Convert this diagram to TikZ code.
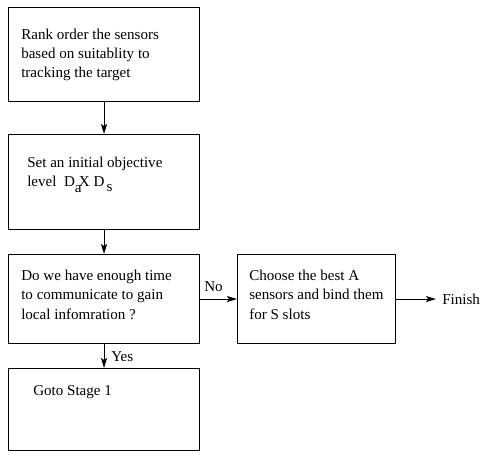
\documentclass[tikz,border=0pt]{standalone}
\usepackage{fontspec}
\setmainfont{Liberation Serif}
\usetikzlibrary{arrows.meta}
\newcommand{\mylines}[1]{\begin{tabular}[t]{@{}l@{}}#1\end{tabular}}
\begin{document}
\begin{tikzpicture}[x=0.75pt,y=-0.75pt,
  box/.style={draw,line width=0.8pt,minimum width=143.25pt,minimum height=#1,inner sep=0pt,anchor=north west},
  txt/.style={anchor=base west,inner sep=0pt,font=\fontsize{11.3}{14.4}\selectfont},
  lbl/.style={anchor=base west,inner sep=0pt,font=\fontsize{11.3}{14.4}\selectfont},
  arr/.style={line width=0.8pt,-{Stealth[length=7.5pt,width=4.5pt,inset=1.5pt]}}]
\useasboundingbox (0,0) rectangle (482,454);
\node[box=70.5pt] (b1) at (8,7) {};
\node[box=71.25pt] (b2) at (8,134) {};
\node[box=66.75pt] (b3) at (8,254) {};
\node[box=61.5pt] (b4) at (8,368) {};
\node[box=66.75pt,minimum width=118.5pt] (b5) at (237,254) {};
\node[txt] (t1) at (21,39) {\mylines{Rank order the sensors\\based on suitablity to\\tracking the target}};
\node[txt] (t2) at (27,167) {\mylines{Set an initial objective\\level\ \ D\raisebox{-4.5pt}{a}\kern-2pt X D\kern1.5pt\raisebox{-4pt}{s}}};
\node[txt] (t3) at (21,280.7) {\mylines{Do we have enough time\\to communicate to gain\\local infomration ?}};
\node[txt] (t4) at (33,395) {Goto Stage 1};
\node[txt] (t5) at (249,280.7) {\mylines{Choose the best A\\sensors and bind them\\for S slots}};
\node[lbl] (no) at (204,291) {No};
\node[lbl] (yes) at (111,361) {Yes};
\node[lbl] (fin) at (442,304) {Finish};
\draw[arr] (b1.south) -- (b2.north);
\draw[arr] (b2.south) -- (b3.north);
\draw[arr] (b3.south) -- (b4.north);
\draw[arr] (b3.east) -- (b5.west);
\draw[arr,shorten >=4.5pt] (b5.east) -- (b5.east -| fin.west);
\end{tikzpicture}
\end{document}
